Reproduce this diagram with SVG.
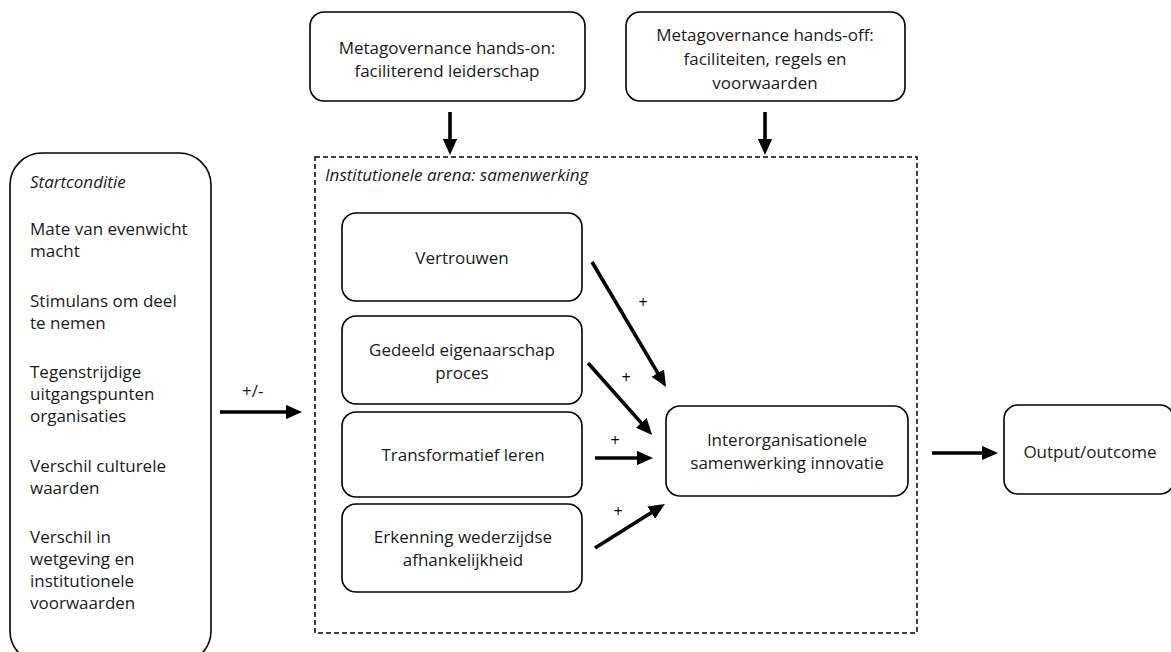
<svg xmlns="http://www.w3.org/2000/svg" width="1171" height="652" viewBox="0 0 1171 652">
  <style>
    .box { fill: #ffffff; stroke: #000000; stroke-width: 1.6; }
    .lbl { font-family: "Open Sans", "Liberation Sans", sans-serif; font-size: 17px; fill: #1a1a1a; }
    .mid { text-anchor: middle; }
    .it { font-style: italic; }
    .arr { stroke: #000000; stroke-width: 3.6; fill: none; marker-end: url(#head); }
    .sign { font-family: "Open Sans", "Liberation Sans", sans-serif; font-size: 16px; fill: #000000; text-anchor: middle; }
  </style>
  <defs>
    <marker id="head" markerWidth="4.5" markerHeight="4" refX="1" refY="2" orient="auto" markerUnits="strokeWidth">
      <path d="M0,0 L4.5,2 L0,4 Z" fill="#000000"/>
    </marker>
  </defs>
  <rect width="1171" height="652" fill="#ffffff"/>

  <!-- start conditions column -->
  <g id="startconditie">
    <rect class="box" x="10" y="153" width="201" height="510" rx="32"/>
    <text class="lbl it" x="30" y="188">Startconditie</text>
    <text class="lbl" x="30" y="235">Mate van evenwicht</text>
    <text class="lbl" x="30" y="257">macht</text>
    <text class="lbl" x="30" y="307">Stimulans om deel</text>
    <text class="lbl" x="30" y="329">te nemen</text>
    <text class="lbl" x="30" y="378">Tegenstrijdige</text>
    <text class="lbl" x="30" y="400">uitgangspunten</text>
    <text class="lbl" x="30" y="422">organisaties</text>
    <text class="lbl" x="30" y="472">Verschil culturele</text>
    <text class="lbl" x="30" y="494">waarden</text>
    <text class="lbl" x="30" y="543">Verschil in</text>
    <text class="lbl" x="30" y="565">wetgeving en</text>
    <text class="lbl" x="30" y="587">institutionele</text>
    <text class="lbl" x="30" y="609">voorwaarden</text>
  </g>

  <!-- metagovernance boxes -->
  <g id="hands-on">
    <rect class="box" x="310" y="12" width="275" height="89" rx="14"/>
    <text class="lbl mid" x="447" y="54">Metagovernance hands-on:</text>
    <text class="lbl mid" x="447" y="77">faciliterend leiderschap</text>
  </g>
  <g id="hands-off">
    <rect class="box" x="626" y="12" width="279" height="89" rx="14"/>
    <text class="lbl mid" x="765" y="41">Metagovernance hands-off:</text>
    <text class="lbl mid" x="765" y="65">faciliteiten, regels en</text>
    <text class="lbl mid" x="765" y="89">voorwaarden</text>
  </g>

  <!-- institutional arena -->
  <g id="arena">
    <rect x="315" y="157" width="602" height="476" fill="none" stroke="#000000" stroke-width="1.5" stroke-dasharray="5,3"/>
    <text class="lbl it" x="325" y="181">Institutionele arena: samenwerking</text>
  </g>

  <g id="vertrouwen">
    <rect class="box" x="342" y="213" width="240" height="88" rx="14"/>
    <text class="lbl mid" x="462" y="264">Vertrouwen</text>
  </g>
  <g id="gedeeld-eigenaarschap">
    <rect class="box" x="342" y="316" width="240" height="88" rx="14"/>
    <text class="lbl mid" x="462" y="356">Gedeeld eigenaarschap</text>
    <text class="lbl mid" x="462" y="379">proces</text>
  </g>
  <g id="transformatief-leren">
    <rect class="box" x="342" y="412" width="240" height="85" rx="14"/>
    <text class="lbl mid" x="463" y="461">Transformatief leren</text>
  </g>
  <g id="erkenning">
    <rect class="box" x="342" y="504" width="240" height="88" rx="14"/>
    <text class="lbl mid" x="463" y="543">Erkenning wederzijdse</text>
    <text class="lbl mid" x="463" y="566">afhankelijkheid</text>
  </g>

  <g id="samenwerking-innovatie">
    <rect class="box" x="666" y="406" width="242" height="90" rx="14"/>
    <text class="lbl mid" x="787" y="446">Interorganisationele</text>
    <text class="lbl mid" x="787" y="469">samenwerking innovatie</text>
  </g>

  <g id="output">
    <rect class="box" x="1004" y="405" width="170" height="89" rx="14"/>
    <text class="lbl mid" x="1090" y="458">Output/outcome</text>
  </g>

  <!-- connectors -->
  <g id="connectors">
    <line class="arr" x1="450" y1="112" x2="450" y2="142.4"/>
    <line class="arr" x1="765" y1="112" x2="765" y2="142.4"/>
    <line class="arr" x1="220" y1="412" x2="289.4" y2="412"/>
    <line class="arr" x1="592" y1="262" x2="659.6" y2="376.2"/>
    <line class="arr" x1="588" y1="363" x2="643.7" y2="425.6"/>
    <line class="arr" x1="595" y1="458" x2="640.4" y2="458"/>
    <line class="arr" x1="595" y1="548" x2="654.3" y2="510.7"/>
    <line class="arr" x1="932" y1="453" x2="985.4" y2="453"/>
    <text class="sign" x="643" y="308">+</text>
    <text class="sign" x="626" y="383">+</text>
    <text class="sign" x="615" y="446">+</text>
    <text class="sign" x="618" y="517">+</text>
    <text class="lbl" x="242" y="397" font-size="15">+/-</text>
  </g>
</svg>
